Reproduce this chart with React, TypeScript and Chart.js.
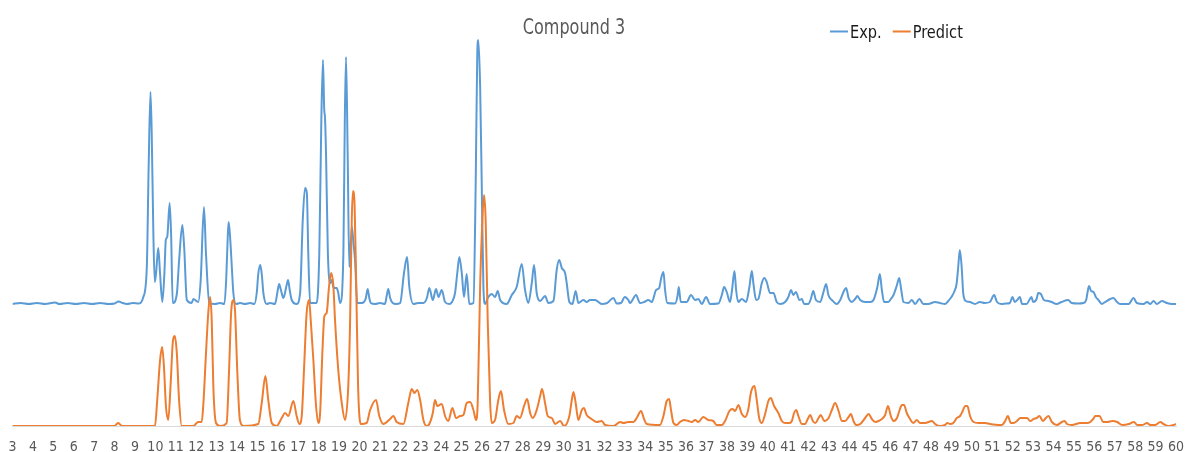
import React, { useEffect, useRef } from "react";
import { Chart, registerables } from "chart.js";

Chart.register(...registerables);

const TITLE = "Compound 3";
const SERIES_NAMES = ["Exp.", "Predict"];
const SERIES_COLORS = ["#5B9BD5", "#ED7D31"];
const X_MIN = 3;
const X_MAX = 60;
const X_STEP = 1;
const EXP_OFFSET = 122;

// 2-theta positions and intensities
const expTheta = [
  3.0, 3.4, 3.8, 4.2, 4.6, 5.08, 5.3, 5.7, 6.1, 6.5, 6.9, 7.3, 7.7, 8.0, 8.2, 8.4, 8.6, 8.9, 9.2,
  9.41, 9.58, 9.67, 9.76, 9.82, 9.9, 9.97, 10.03, 10.14, 10.23, 10.34, 10.44, 10.51, 10.58, 10.7, 10.77, 10.85,
  11.05, 11.16, 11.32, 11.41, 11.54, 11.78, 11.86, 12.1, 12.22, 12.38, 12.48, 12.64, 12.92, 13.17, 13.38,
  13.47, 13.55, 13.59, 13.66, 13.75, 13.82, 13.95, 14.15, 14.39, 14.64, 14.85, 14.97, 15.04, 15.14, 15.22,
  15.29, 15.45, 15.62, 15.86, 15.98, 16.06, 16.15, 16.27, 16.42, 16.5, 16.58, 16.68, 16.92, 17.09, 17.22,
  17.33, 17.42, 17.49, 17.58, 17.9, 18.03, 18.13, 18.21, 18.27, 18.31, 18.36, 18.45, 18.57, 18.64, 18.72,
  18.8, 18.88, 18.95, 19.05, 19.21, 19.28, 19.34, 19.42, 19.5, 19.57, 19.63, 19.7, 19.78, 19.89, 20.12,
  20.3, 20.4, 20.48, 20.55, 20.76, 21.01, 21.25, 21.33, 21.41, 21.5, 21.63, 21.79, 21.99, 22.18, 22.33,
  22.44, 22.64, 22.87, 23.13, 23.3, 23.42, 23.59, 23.75, 23.87, 24.03, 24.19, 24.4, 24.53, 24.68, 24.79,
  24.89, 25.01, 25.12, 25.25, 25.38, 25.58, 25.69, 25.77, 25.82, 25.91, 25.99, 26.07, 26.15, 26.31, 26.48,
  26.64, 26.77, 26.89, 27.21, 27.46, 27.7, 27.95, 28.11, 28.27, 28.44, 28.55, 28.68, 28.85, 29.09, 29.25,
  29.5, 29.66, 29.78, 29.91, 30.07, 30.15, 30.28, 30.43, 30.59, 30.72, 30.97, 31.13, 31.29, 31.54, 31.87,
  32.13, 32.44, 32.6, 32.81, 33.0, 33.17, 33.25, 33.55, 33.74, 33.94, 34.15, 34.32, 34.53, 34.68, 34.79,
  34.89, 34.97, 35.08, 35.46, 35.58, 35.64, 35.74, 36.03, 36.24, 36.44, 36.6, 36.77, 36.98, 37.17, 37.58,
  37.75, 37.86, 37.99, 38.15, 38.25, 38.37, 38.45, 38.55, 38.73, 38.94, 39.1, 39.22, 39.3, 39.43, 39.54,
  39.71, 39.83, 39.95, 40.11, 40.28, 40.44, 40.61, 40.85, 41.01, 41.14, 41.25, 41.38, 41.55, 41.67, 41.78,
  41.99, 42.11, 42.23, 42.36, 42.57, 42.73, 42.86, 42.97, 43.14, 43.38, 43.55, 43.71, 43.84, 43.96, 44.12,
  44.28, 44.39, 44.53, 44.77, 45.02, 45.18, 45.37, 45.49, 45.59, 45.7, 45.91, 46.03, 46.16, 46.33, 46.44,
  46.54, 46.65, 46.89, 47.06, 47.22, 47.43, 47.62, 47.86, 48.19, 48.43, 48.68, 48.84, 49.0, 49.13, 49.25,
  49.33, 49.41, 49.5, 49.58, 49.71, 49.9, 50.15, 50.39, 50.63, 50.88, 51.09, 51.23, 51.45, 51.69, 51.86,
  51.99, 52.1, 52.22, 52.35, 52.46, 52.68, 52.84, 52.92, 53.0, 53.17, 53.25, 53.38, 53.53, 53.74, 53.9,
  54.15, 54.39, 54.72, 54.89, 55.21, 55.46, 55.6, 55.66, 55.74, 55.84, 55.96, 56.07, 56.2, 56.37, 56.53,
  56.78, 56.94, 57.11, 57.27, 57.68, 57.92, 58.08, 58.41, 58.58, 58.74, 58.9, 59.06, 59.31, 59.55, 59.8, 60.0,
];
const expIntensity = [
  0, 1, 0, 1, 0, 1.5, 0, 1, 0, 1, 0, 1, 0, 0.5, 2.5, 1, 0, 1, 0.5,
  7, 37, 137, 212, 171, 71, 22, 30, 56, 30, 2, 30, 64, 67, 101, 70, 1,
  10, 43, 79, 57, 4, 1, 5, 2, 24, 97, 50, 1, 0, 1, 0,
  25, 70, 82, 67, 35, 11, 0, 1, 0, 1, 0, 12, 30, 39, 28,
  11, 0, 1, 0, 12, 20, 14, 6, 18, 24, 14, 4, 0, 11, 84,
  116, 111, 51, 1, 1, 51, 184, 244, 195, 186, 150, 51, 21, 24, 17,
  16, 16, 12, 1, 51, 184, 247, 150, 37, 60, 77, 62, 44, 1, 1,
  5, 15, 6, 1, 0, 1, 0, 8, 15, 6, 1, 0, 1, 31, 47,
  17, 0, 1, 1, 6, 16, 4, 15, 7, 14, 2, 0, 2, 11, 31,
  47, 31, 7, 30, 0, 1, 117, 251, 264, 217, 117, 17, 0, 7, 10,
  7, 13, 4, 0, 9, 17, 40, 14, 1, 21, 39, 11, 3, 8, 1,
  3, 34, 44, 36, 31, 21, 2, 0, 13, 1, 4, 2, 4, 4, 0,
  1, 6, 0.5, 1, 7, 4, 1, 9, 1, 2, 4, 2, 14, 16, 27,
  32, 14, 1, 0.5, 8, 17, 2, 2, 9, 4, 5, 0, 7, 0, 0.5,
  9, 17, 12, 2, 14, 33, 14, 2, 5, 2, 17, 33, 20, 4, 5,
  21, 26, 22, 11, 11, 2, 0, 2, 7, 14, 9, 12, 4, 5, 0,
  0, 5, 13, 4, 2, 12, 20, 9, 4, 0, 4, 12, 16, 6, 2,
  5, 8, 4, 2, 2, 4, 17, 30, 14, 2, 2, 5, 9, 19, 26,
  14, 2, 1, 4, 0, 5, 0, 0, 2, 1, 0, 3, 7, 12, 20,
  37, 54, 37, 10, 3, 2, 0, 2, 1, 2, 9, 2, 0, 0.5, 1,
  7, 2, 4, 7, 0, 0, 5, 7, 2, 5, 11, 10, 4, 3, 2,
  0, 2, 4, 1, 0.5, 1, 4, 11, 18, 13, 12, 7, 4, 0, 2,
  5, 6, 2, 0, 0, 6, 1, 0, 2, 0, 3, 0, 3, 1, 0, 0,
];

const predTheta = [
  3.0, 8.0, 8.1, 8.18, 8.3, 8.4, 9.98, 10.09, 10.23, 10.33, 10.42, 10.52, 10.63, 10.75, 10.85, 10.95, 11.05,
  11.16, 11.29, 11.86, 12.02, 12.1, 12.27, 12.35, 12.48, 12.59, 12.68, 12.76, 12.84, 12.97, 13.17, 13.49,
  13.61, 13.71, 13.82, 13.9, 14.01, 14.14, 14.31, 15.04, 15.21, 15.39, 15.53, 15.7, 15.94, 16.19, 16.35,
  16.51, 16.76, 16.92, 17.05, 17.17, 17.28, 17.41, 17.53, 17.61, 17.74, 17.86, 17.98, 18.07, 18.18, 18.28,
  18.39, 18.51, 18.61, 18.72, 18.8, 18.96, 19.13, 19.29, 19.45, 19.54, 19.62, 19.68, 19.76, 19.84, 19.93,
  20.06, 20.35, 20.52, 20.81, 20.97, 21.17, 21.5, 21.66, 21.82, 22.15, 22.39, 22.56, 22.69, 22.83, 22.97,
  23.13, 23.29, 23.42, 23.59, 23.7, 23.81, 24.03, 24.19, 24.35, 24.55, 24.73, 24.93, 25.09, 25.25, 25.42,
  25.58, 25.71, 25.79, 25.91, 26.02, 26.1, 26.18, 26.28, 26.4, 26.48, 26.64, 26.8, 26.93, 27.08, 27.29,
  27.54, 27.7, 27.86, 28.06, 28.21, 28.36, 28.49, 28.68, 28.85, 28.94, 29.09, 29.22, 29.42, 29.58, 29.83,
  30.02, 30.28, 30.4, 30.48, 30.59, 30.72, 30.89, 30.99, 31.13, 31.37, 31.62, 31.87, 32.03, 32.44, 32.77,
  32.93, 33.17, 33.42, 33.58, 33.79, 33.94, 34.07, 34.72, 34.89, 35.05, 35.17, 35.26, 35.38, 35.54, 35.7,
  35.9, 36.11, 36.28, 36.44, 36.6, 36.84, 37.08, 37.33, 37.5, 37.75, 37.91, 38.12, 38.27, 38.4, 38.56,
  38.73, 38.89, 39.05, 39.17, 39.27, 39.35, 39.46, 39.58, 39.71, 39.87, 40.03, 40.15, 40.31, 40.52, 40.69,
  40.85, 41.06, 41.18, 41.29, 41.39, 41.5, 41.67, 41.83, 41.96, 42.08, 42.21, 42.33, 42.49, 42.6, 42.77,
  42.98, 43.14, 43.3, 43.47, 43.63, 43.79, 43.96, 44.07, 44.2, 44.33, 44.53, 44.77, 44.94, 45.1, 45.27,
  45.43, 45.59, 45.75, 45.89, 46.03, 46.16, 46.33, 46.46, 46.57, 46.68, 46.81, 46.97, 47.13, 47.3, 47.46,
  47.71, 48.04, 48.2, 48.44, 48.68, 48.8, 48.93, 49.09, 49.26, 49.42, 49.55, 49.67, 49.78, 49.91, 50.08,
  50.32, 50.65, 50.89, 51.3, 51.47, 51.63, 51.76, 51.91, 52.04, 52.21, 52.37, 52.53, 52.7, 52.86, 53.02,
  53.18, 53.31, 53.48, 53.62, 53.75, 53.92, 54.16, 54.41, 54.54, 54.66, 54.9, 55.31, 55.64, 55.8, 55.94,
  56.05, 56.26, 56.43, 56.63, 56.88, 57.12, 57.37, 57.69, 57.94, 58.1, 58.35, 58.58, 58.74, 58.98, 59.23,
  59.39, 59.63, 59.88, 60.0,
];
const predIntensity = [
  0, 0, 2, 3, 1, 0, 0, 26, 66, 79, 59, 19, 6, 43, 83, 90, 73,
  26, 0, 0, 3, 4, 4, 22, 73, 113, 129, 106, 39, 3, 0, 3,
  56, 113, 126, 116, 56, 6, 0, 2, 23, 50, 26, 3, 0, 8, 13,
  10, 25, 10, 2, 10, 56, 113, 126, 106, 66, 23, 3, 13, 73, 110,
  113, 140, 153, 140, 106, 56, 23, 6, 40, 106, 206, 235, 220, 140, 40,
  2, 3, 16, 26, 10, 2, 7, 10, 4, 2, 23, 37, 33, 36, 26,
  6, 0, 2, 13, 26, 20, 22, 10, 5, 18, 8, 10, 11, 23, 24,
  16, 6, 23, 140, 206, 231, 206, 106, 23, 3, 6, 26, 35, 16, 2,
  3, 10, 8, 20, 27, 13, 8, 16, 30, 37, 23, 10, 8, 2, 5,
  0, 10, 26, 34, 23, 6, 16, 18, 11, 7, 4, 5, 1, 0, 4,
  3, 4, 4, 8, 15, 7, 2, 1, 10, 25, 27, 16, 3, 1, 4,
  6, 5, 4, 6, 4, 9, 6, 5, 1, 1, 5, 15, 17, 15, 21,
  12, 9, 17, 33, 39, 40, 26, 8, 3, 12, 25, 28, 20, 13, 5,
  3, 3, 5, 13, 16, 10, 2, 2, 7, 11, 5, 3, 8, 11, 5,
  8, 16, 23, 15, 5, 5, 9, 12, 5, 1, 2, 8, 12, 7, 4,
  5, 7, 11, 20, 10, 5, 8, 16, 21, 21, 13, 7, 3, 6, 3,
  3, 5, 2, 0, 1, 3, 2, 3, 8, 10, 15, 20, 20, 10, 4,
  3, 3, 2, 1, 1, 5, 10, 3, 3, 5, 8, 8, 8, 5, 7,
  8, 10, 5, 8, 10, 4, 1, 4, 5, 2, 1, 3, 3, 4, 7,
  10, 10, 4, 4, 5, 4, 1, 2, 4, 1, 1, 3, 1, 1, 4,
  2, 0, 1, 2,
];

const FONT = '"DejaVu Sans Condensed", "DejaVu Sans", sans-serif';

const headerPlugin = {
  id: "headerPlugin",
  afterDraw(chart: any) {
    const ctx: CanvasRenderingContext2D = chart.ctx;
    // title, condensed horizontally to match the narrow reference face
    ctx.save();
    ctx.fillStyle = "#595959";
    ctx.font = `22px ${FONT}`;
    ctx.textAlign = "center";
    ctx.textBaseline = "alphabetic";
    ctx.translate(574, 34);
    ctx.scale(0.81, 1);
    ctx.fillText(TITLE, 0, 0);
    ctx.restore();

    // legend
    ctx.save();
    ctx.font = `18px ${FONT}`;
    ctx.textAlign = "left";
    ctx.textBaseline = "alphabetic";
    let x = 830;
    const sx = 0.9;
    SERIES_NAMES.forEach((name, i) => {
      ctx.strokeStyle = SERIES_COLORS[i];
      ctx.lineWidth = 2;
      ctx.beginPath();
      ctx.moveTo(x, 31.5);
      ctx.lineTo(x + 18, 31.5);
      ctx.stroke();
      ctx.fillStyle = "#1a1a1a";
      ctx.save();
      ctx.translate(x + 20, 38.3);
      ctx.scale(sx, 1);
      ctx.fillText(name, 0, 0);
      ctx.restore();
      x += 20 + ctx.measureText(name).width * sx + 11;
    });
    ctx.restore();
  },
};

export default function App() {
  const ref = useRef<HTMLCanvasElement>(null);
  useEffect(() => {
    document.body.style.margin = "0";
    const expData = expTheta.map((t, i) => ({ x: t, y: expIntensity[i] + EXP_OFFSET }));
    const predData = predTheta.map((t, i) => ({ x: t, y: predIntensity[i] }));
    const chart = new Chart(ref.current as HTMLCanvasElement, {
      type: "line",
      data: {
        datasets: [
          {
            label: SERIES_NAMES[0],
            data: expData,
            borderColor: SERIES_COLORS[0],
            backgroundColor: SERIES_COLORS[0],
            borderWidth: 2,
            pointRadius: 0,
            cubicInterpolationMode: "monotone",
            order: 1,
          },
          {
            label: SERIES_NAMES[1],
            data: predData,
            borderColor: SERIES_COLORS[1],
            backgroundColor: SERIES_COLORS[1],
            borderWidth: 2,
            pointRadius: 0,
            cubicInterpolationMode: "monotone",
            order: 0,
          },
        ],
      },
      options: {
        animation: false,
        responsive: true,
        maintainAspectRatio: false,
        events: [],
        layout: { padding: { left: 12.5, right: 10, top: 20, bottom: 0 } },
        plugins: {
          legend: { display: false },
          title: { display: false },
          tooltip: { enabled: false },
        },
        scales: {
          x: {
            type: "linear",
            min: X_MIN,
            max: X_MAX,
            grid: { display: false, drawTicks: false },
            border: { display: true, color: "#D9D9D9", width: 1 },
            ticks: {
              stepSize: X_STEP,
              autoSkip: false,
              maxRotation: 0,
              padding: 0,
              color: "#595959",
              font: { family: FONT, size: 14, lineHeight: 3 },
            },
          },
          y: {
            display: false,
            min: 0,
            max: 406,
          },
        },
      },
      plugins: [headerPlugin],
    });
    return () => chart.destroy();
  }, []);
  return (
    <div style={{ position: "absolute", left: 0, top: 0, width: 1186, height: 452, overflow: "hidden", background: "#fff" }}>
      <div style={{ position: "relative", width: 1186, height: 468 }}>
        <canvas ref={ref} />
      </div>
    </div>
  );
}
